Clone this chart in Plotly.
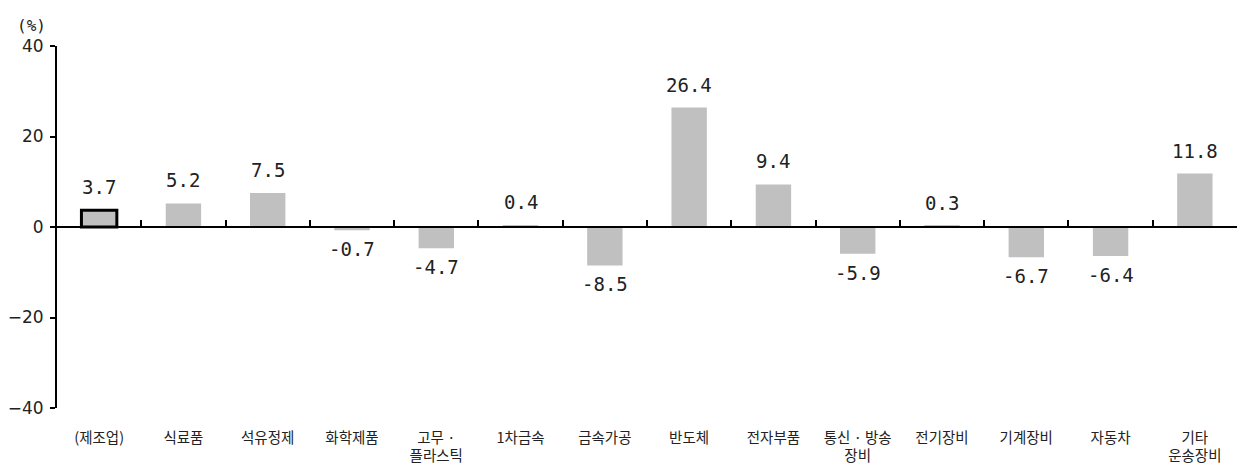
import plotly.graph_objects as go

categories = ["(제조업)", "식료품", "석유정제", "화학제품", "고무 ·<br>플라스틱", "1차금속", "금속가공",
              "반도체", "전자부품", "통신 · 방송<br>장비", "전기장비", "기계장비", "자동차", "기타<br>운송장비"]
values = [3.7, 5.2, 7.5, -0.7, -4.7, 0.4, -8.5, 26.4, 9.4, -5.9, 0.3, -6.7, -6.4, 11.8]
y_ticks = [-40, -20, 0, 20, 40]

labels = [f"{v:.1f}" for v in values]
line_w = [3] + [0] * (len(values) - 1)

fig = go.Figure()
fig.add_trace(go.Bar(
    x=categories, y=values, width=0.42,
    marker=dict(color="#c0c0c0", line=dict(color="black", width=line_w)),
    showlegend=False, hoverinfo="skip",
))
fig.add_trace(go.Bar(
    x=categories, y=[0] * len(values), xaxis="x2", yaxis="y",
    showlegend=False, hoverinfo="skip", marker=dict(color="rgba(0,0,0,0)"),
))

annotations = []
for c, v, t in zip(categories, values, labels):
    annotations.append(dict(
        x=c, y=v, xref="x", yref="y", text=t, showarrow=False,
        yanchor="bottom" if v >= 0 else "top",
        yshift=10 if v >= 0 else -6,
        font=dict(family="DejaVu Sans Mono", size=19, color="#222"),
    ))
annotations.append(dict(text="(%)", xref="paper", yref="paper", x=-0.036, y=1.025,
                        xanchor="left", yanchor="bottom", showarrow=False,
                        font=dict(family="DejaVu Sans Mono", size=16, color="#222")))

fig.update_layout(
    width=1237, height=463,
    margin=dict(l=49, r=8, t=38, b=63),
    plot_bgcolor="white", paper_bgcolor="white",
    font=dict(family="Noto Sans CJK KR", color="#222"),
    xaxis=dict(type="category", categoryorder="array", categoryarray=categories,
               range=[-0.5, len(categories) - 0.5], automargin=False,
               showline=False, ticks="", showgrid=False, zeroline=False,
               ticklabelstandoff=19, tickfont=dict(size=14.5)),
    xaxis2=dict(type="category", categoryorder="array", categoryarray=categories,
                range=[-0.5, len(categories) - 0.5],
                overlaying="x", anchor="free", position=0.5, side="bottom",
                showline=True, linecolor="black", linewidth=1.5,
                ticks="inside", tickson="boundaries", ticklen=6, tickcolor="black", tickwidth=1.5,
                showticklabels=False, showgrid=False, zeroline=False),
    yaxis=dict(range=[-40, 40], tickvals=y_ticks, showline=True, linecolor="black", linewidth=2,
               ticks="outside", ticklen=5, tickcolor="black", tickwidth=1.5, automargin=False,
               ticklabelstandoff=3,
               showgrid=False, zeroline=False, tickfont=dict(family="DejaVu Sans", size=17)),
    annotations=annotations,
)

fig.write_html("out.html")
